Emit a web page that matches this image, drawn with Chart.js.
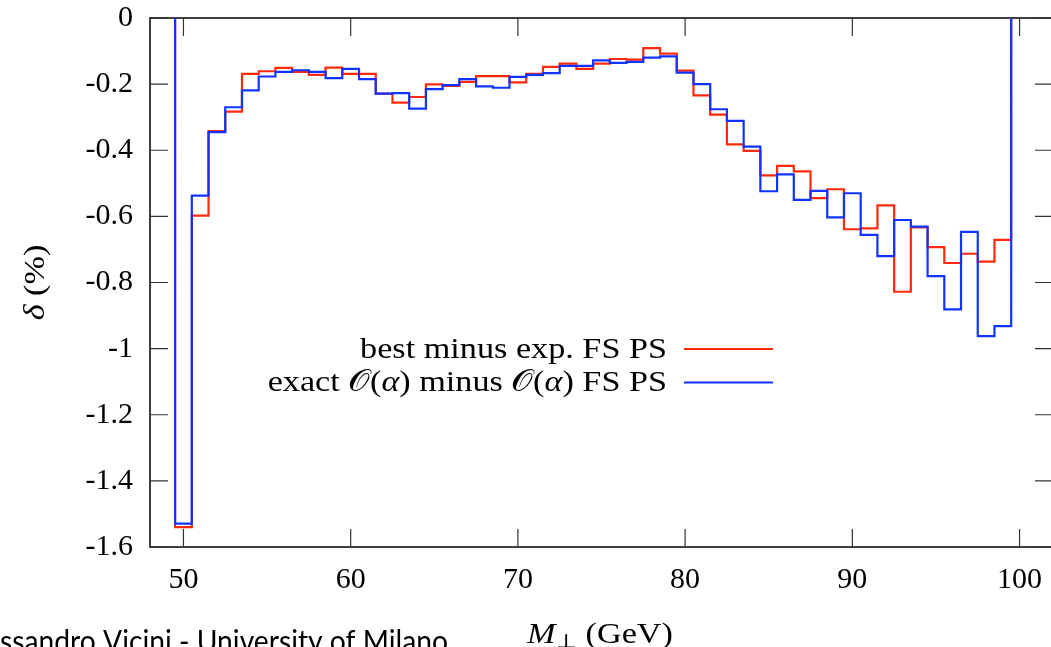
<!DOCTYPE html>
<html>
<head>
<meta charset="utf-8">
<script src="https://cdn.jsdelivr.net/npm/chart.js@4.4.1/dist/chart.umd.min.js"></script>
<style>
  html, body { margin: 0; padding: 0; overflow: hidden; background: #fff; width: 1051px; height: 647px; }
  #wrap { position: absolute; left: 0; top: 0; width: 1060px; height: 647px; }
</style>
</head>
<body>
<div id="wrap"><canvas id="c" width="1060" height="647"></canvas></div>
<script>
// Bin centres of the transverse-mass histogram (GeV), 1 GeV wide
const binCenters = [50, 51, 52, 53, 54, 55, 56, 57, 58, 59,
                    60, 61, 62, 63, 64, 65, 66, 67, 68, 69,
                    70, 71, 72, 73, 74, 75, 76, 77, 78, 79,
                    80, 81, 82, 83, 84, 85, 86, 87, 88, 89,
                    90, 91, 92, 93, 94, 95, 96, 97, 98, 99];
const binWidth = 1;

// best minus exponentiated FS parton shower (%)
const bestMinusExp = [-1.540, -0.598, -0.342, -0.283, -0.169, -0.161, -0.151, -0.163, -0.172, -0.150,
                      -0.169, -0.169, -0.229, -0.256, -0.239, -0.201, -0.205, -0.193, -0.176, -0.176,
                      -0.195, -0.169, -0.148, -0.138, -0.154, -0.138, -0.124, -0.126, -0.091, -0.108,
                      -0.159, -0.234, -0.292, -0.382, -0.402, -0.476, -0.447, -0.464, -0.545, -0.518,
                      -0.639, -0.636, -0.567, -0.828, -0.633, -0.693, -0.741, -0.713, -0.737, -0.671];

// exact O(alpha) minus O(alpha) FS parton shower (%)
const exactMinusOalpha = [-1.529, -0.537, -0.345, -0.270, -0.219, -0.177, -0.163, -0.158, -0.163, -0.182,
                          -0.154, -0.185, -0.229, -0.227, -0.274, -0.215, -0.203, -0.185, -0.207, -0.211,
                          -0.178, -0.172, -0.167, -0.145, -0.145, -0.128, -0.136, -0.133, -0.120, -0.116,
                          -0.165, -0.200, -0.276, -0.311, -0.389, -0.524, -0.473, -0.550, -0.523, -0.603,
                          -0.530, -0.656, -0.720, -0.611, -0.631, -0.781, -0.881, -0.647, -0.962, -0.932];

const xTickValues = [50, 60, 70, 80, 90, 100];
const yTickValues = [0, -0.2, -0.4, -0.6, -0.8, -1, -1.2, -1.4, -1.6];

const seriesLabels = ['best minus exp. FS PS', 'exact \u{1D4AA}(\u03B1) minus \u{1D4AA}(\u03B1) FS PS'];
const footerText = 'Alessandro Vicini - University of Milano';

const RED = '#ff2a0c';
const BLUE = '#1033ff';
const SERIF = '"Liberation Serif", "DejaVu Serif", serif';
const FS = 30;
const STRETCH = 1.14;   // widen serif text a little, like Computer Modern

// histogram outline: start and end on the zero baseline, one step per bin
function histSteps(values) {
  const pts = [{ x: binCenters[0] - binWidth / 2, y: 0 }];
  binCenters.forEach((c, i) => pts.push({ x: c - binWidth / 2, y: values[i] }));
  pts.push({ x: binCenters[binCenters.length - 1] + binWidth / 2, y: 0 });
  return pts;
}

function fmtY(v) { return String(Math.round(v * 10) / 10); }

function runsWidth(ctx, runs) {
  let w = 0;
  for (const r of runs) { ctx.font = r.font; w += ctx.measureText(r.t).width; }
  return w;
}
function drawRuns(ctx, runs, x, y) {
  for (const r of runs) {
    ctx.font = r.font;
    ctx.fillText(r.t, x, y + (r.dy || 0));
    x += ctx.measureText(r.t).width;
  }
}

const N = FS + 'px ' + SERIF;
const I = 'italic ' + FS + 'px ' + SERIF;

const legendRows = [
  { runs: [{ t: 'best minus exp. FS PS', font: N }], color: RED },
  { runs: [
      { t: 'exact ', font: N }, { t: '\u{1D4AA}', font: N }, { t: '(', font: N },
      { t: '\u03B1', font: I }, { t: ') minus ', font: N }, { t: '\u{1D4AA}', font: N },
      { t: '(', font: N }, { t: '\u03B1', font: I }, { t: ') FS PS', font: N }
    ], color: BLUE }
];

const framePlugin = {
  id: 'frame',
  beforeDatasetsDraw(chart) {
    const { ctx, chartArea: a, scales: { x, y } } = chart;
    ctx.save();
    ctx.strokeStyle = '#000';
    ctx.lineWidth = 1.5;
    ctx.strokeRect(a.left, a.top, a.right - a.left, a.bottom - a.top);
    ctx.strokeStyle = '#333';
    ctx.lineWidth = 1.2;
    const TL = 18;
    ctx.beginPath();
    xTickValues.forEach(v => {
      const px = x.getPixelForValue(v);
      ctx.moveTo(px, a.bottom); ctx.lineTo(px, a.bottom - TL);
      ctx.moveTo(px, a.top); ctx.lineTo(px, a.top + TL);
    });
    yTickValues.forEach(v => {
      const py = y.getPixelForValue(v);
      ctx.moveTo(a.left, py); ctx.lineTo(a.left + TL, py);
      ctx.moveTo(a.right, py); ctx.lineTo(a.right - TL, py);
    });
    ctx.stroke();
    ctx.restore();
  },
  afterDraw(chart) {
    const { ctx, chartArea: a } = chart;
    ctx.save();
    ctx.fillStyle = '#000';
    ctx.textBaseline = 'alphabetic';
    ctx.textAlign = 'left';

    // key: text right-aligned, line sample to its right
    const keyRight = 667, rowY = [349, 382.5];
    legendRows.forEach((row, i) => {
      const w = runsWidth(ctx, row.runs) * STRETCH;
      ctx.save();
      ctx.translate(keyRight - w, rowY[i] + 8.5);
      ctx.scale(STRETCH, 1);
      drawRuns(ctx, row.runs, 0, 0);
      ctx.restore();
      ctx.strokeStyle = row.color;
      ctx.lineWidth = 2.2;
      ctx.beginPath();
      ctx.moveTo(684, rowY[i]); ctx.lineTo(773, rowY[i]);
      ctx.stroke();
    });

    // x-axis title
    const xt = [
      { t: 'M', font: I },
      { t: '\u22A5', font: '20px ' + SERIF, dy: 5 },
      { t: ' (GeV)', font: N }
    ];
    const xw = runsWidth(ctx, xt) * STRETCH;
    ctx.save();
    ctx.translate(600 - xw / 2, 643);
    ctx.scale(STRETCH, 1);
    drawRuns(ctx, xt, 0, 0);
    ctx.restore();

    // y-axis title, rotated
    const yt = [{ t: '\u03B4', font: I }, { t: ' (%)', font: N }];
    const yw = runsWidth(ctx, yt) * STRETCH;
    ctx.save();
    ctx.translate(44, (a.top + a.bottom) / 2 + yw / 2);
    ctx.rotate(-Math.PI / 2);
    ctx.scale(STRETCH, 1);
    drawRuns(ctx, yt, 0, 0);
    ctx.restore();

    // slide footer
    ctx.font = '31px Lato, "Open Sans", sans-serif';
    const shown = footerText.slice(3);
    const sx = 448 / ctx.measureText(shown).width;
    ctx.save();
    ctx.translate(448, 652);
    ctx.scale(sx, 1);
    ctx.textAlign = 'right';
    ctx.fillText(footerText, 0, 0);
    ctx.restore();

    ctx.restore();
  }
};

new Chart(document.getElementById('c'), {
  type: 'line',
  data: {
    datasets: [
      { label: seriesLabels[0], data: histSteps(bestMinusExp), borderColor: RED, borderWidth: 2.2,
        stepped: 'before', pointRadius: 0, fill: false, order: 2 },
      { label: seriesLabels[1], data: histSteps(exactMinusOalpha), borderColor: BLUE, borderWidth: 2.2,
        stepped: 'before', pointRadius: 0, fill: false, order: 1 }
    ]
  },
  options: {
    responsive: false,
    animation: false,
    devicePixelRatio: 1,
    layout: { autoPadding: false, padding: { top: 18, right: 7, left: 0, bottom: 0 } },
    plugins: { legend: { display: false }, tooltip: { enabled: false } },
    scales: {
      x: {
        type: 'linear', min: 48, max: 102,
        afterBuildTicks: s => { s.ticks = xTickValues.map(v => ({ value: v })); },
        afterFit: s => { s.height = 100; s.paddingLeft = 0; s.paddingRight = 0; },
        grid: { display: false, drawTicks: false },
        border: { display: false },
        ticks: { font: { family: SERIF, size: FS }, color: '#000', padding: 15,
                 maxRotation: 0, autoSkip: false, callback: v => String(v) }
      },
      y: {
        type: 'linear', min: -1.6, max: 0,
        afterBuildTicks: s => { s.ticks = yTickValues.map(v => ({ value: v })); },
        afterFit: s => { s.width = 150; s.paddingTop = 0; s.paddingBottom = 0; },
        grid: { display: false, drawTicks: false },
        border: { display: false },
        ticks: { font: { family: SERIF, size: FS }, color: '#000', padding: 17,
                 autoSkip: false, callback: v => fmtY(v) }
      }
    }
  },
  plugins: [framePlugin]
});
</script>
</body>
</html>
